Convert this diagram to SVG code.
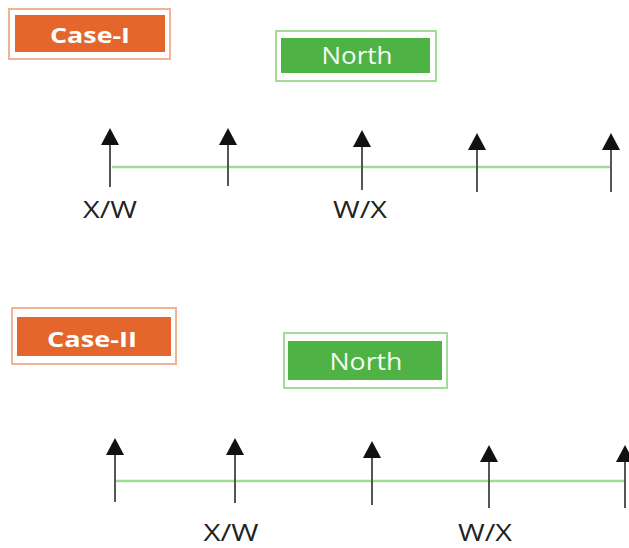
<svg xmlns="http://www.w3.org/2000/svg" width="629" height="548" viewBox="0 0 629 548">
<defs>
<marker id="ah" markerUnits="userSpaceOnUse" markerWidth="20" markerHeight="20" viewBox="0 -10 20 20" refX="0" refY="0" orient="auto">
<path d="M0,-9 L17,0 L0,9 z" fill="#111"/>
</marker>
<style>
.case-o{fill:#fff;stroke:#f2b394;stroke-width:2}
.case-i{fill:#e5662c}
.case-t{font-family:"Open Sans","Liberation Sans",sans-serif;font-weight:bold;font-size:22px;fill:#fff;text-anchor:middle}
.n-o{fill:#fff;stroke:#a6d99c;stroke-width:2}
.n-i{fill:#4fb245}
.n-t{font-family:"Open Sans","Liberation Sans",sans-serif;font-size:23px;fill:#f4fbf2;text-anchor:middle}
.ax{stroke:#a2dc94;stroke-width:2.5;fill:none}
.ar{stroke:#555;stroke-width:2;marker-end:url(#ah)}
.lbl{font-family:"Open Sans","Liberation Sans",sans-serif;font-size:24px;fill:#222;text-anchor:middle}
.lbl2{font-size:23px}
</style>
</defs>
<rect width="629" height="548" fill="#fff"/>

<g id="case1">
<rect class="case-o" x="9" y="9" width="161" height="50"/>
<rect class="case-i" x="15" y="15" width="150" height="37"/>
<text class="case-t" x="90" y="43" textLength="80" lengthAdjust="spacingAndGlyphs">Case-I</text>
</g>
<g id="north1">
<rect class="n-o" x="276" y="31" width="160" height="50"/>
<rect class="n-i" x="281" y="38" width="149" height="35"/>
<text class="n-t" x="357" y="64" textLength="71" lengthAdjust="spacingAndGlyphs">North</text>
</g>

<g id="case2">
<rect class="case-o" x="12" y="308" width="164" height="56"/>
<rect class="case-i" x="17" y="317" width="154" height="39"/>
<text class="case-t" x="92" y="347" textLength="90" lengthAdjust="spacingAndGlyphs">Case-II</text>
</g>
<g id="north2">
<rect class="n-o" x="284" y="333" width="163" height="55"/>
<rect class="n-i" x="288" y="341" width="154" height="39"/>
<text class="n-t" x="366" y="370" textLength="73" lengthAdjust="spacingAndGlyphs">North</text>
</g>

<g id="connectors">
<line class="ax" x1="112" y1="167" x2="612" y2="167"/>
<line class="ar" x1="110" y1="187" x2="110" y2="145"/>
<line class="ar" x1="228" y1="186" x2="228" y2="145"/>
<line class="ar" x1="362" y1="190" x2="362" y2="147"/>
<line class="ar" x1="477" y1="192" x2="477" y2="150"/>
<line class="ar" x1="611" y1="192" x2="611" y2="150"/>

<line class="ax" x1="115" y1="481" x2="625" y2="481"/>
<line class="ar" x1="115" y1="502" x2="115" y2="455"/>
<line class="ar" x1="235" y1="503" x2="235" y2="455"/>
<line class="ar" x1="372" y1="505" x2="372" y2="458"/>
<line class="ar" x1="489" y1="508" x2="489" y2="462"/>
<line class="ar" x1="625" y1="508" x2="625" y2="462"/>
</g>

<g id="labels">
<text class="lbl" x="110" y="218" textLength="54" lengthAdjust="spacingAndGlyphs">X/W</text>
<text class="lbl" x="360" y="218" textLength="54" lengthAdjust="spacingAndGlyphs">W/X</text>
<text class="lbl lbl2" x="231" y="541" textLength="55" lengthAdjust="spacingAndGlyphs">X/W</text>
<text class="lbl lbl2" x="485" y="541" textLength="54" lengthAdjust="spacingAndGlyphs">W/X</text>
</g>
</svg>
